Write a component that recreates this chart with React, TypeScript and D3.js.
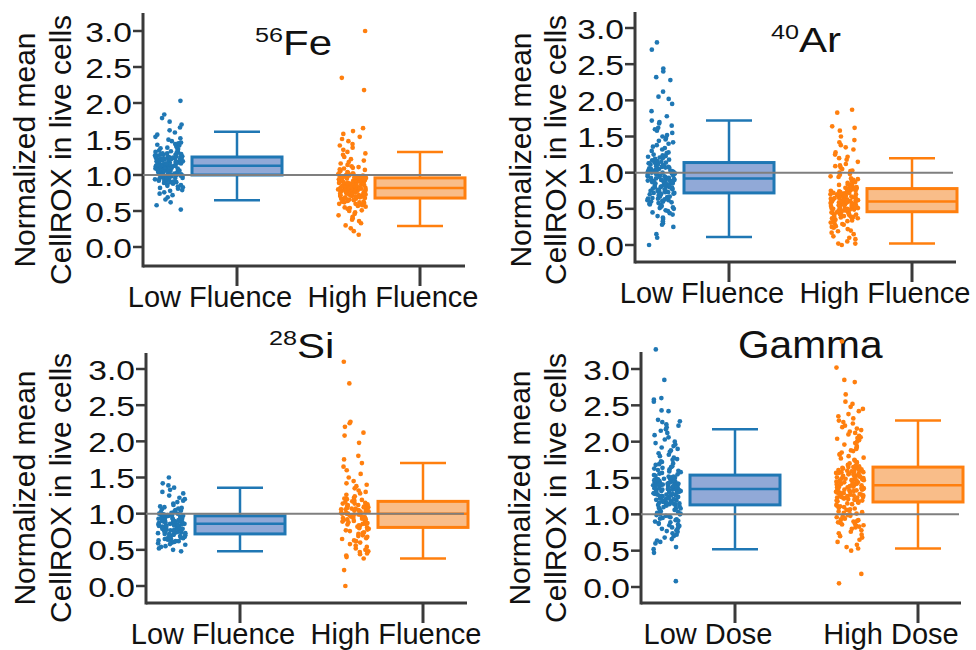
import React, { useEffect, useRef } from "react";
import * as d3 from "d3";

// values (normalized mean CellROX per cell)
const feLow = [0.52,0.58,0.62,0.66,0.69,0.72,0.74,0.76,0.78,0.79,0.81,0.82,0.83,0.84,0.85,0.86,0.87,0.88,0.89,0.9,0.9,0.91,0.92,0.92,0.93,0.94,0.94,0.95,0.95,0.96,0.96,0.97,0.97,0.98,0.98,0.99,0.99,1.0,1.0,1.0,1.01,1.01,1.02,1.02,1.03,1.03,1.04,1.04,1.04,1.05,1.05,1.05,1.06,1.06,1.06,1.07,1.07,1.07,1.08,1.08,1.08,1.09,1.09,1.09,1.1,1.1,1.1,1.1,1.11,1.11,1.11,1.12,1.12,1.12,1.12,1.13,1.13,1.13,1.13,1.13,1.14,1.14,1.14,1.15,1.15,1.15,1.16,1.16,1.16,1.17,1.17,1.17,1.18,1.18,1.18,1.19,1.19,1.19,1.2,1.2,1.2,1.21,1.21,1.21,1.22,1.22,1.22,1.23,1.23,1.23,1.24,1.24,1.24,1.25,1.25,1.25,1.25,1.16,1.19,1.22,1.26,1.26,1.27,1.27,1.28,1.28,1.29,1.29,1.3,1.3,1.31,1.31,1.32,1.33,1.33,1.34,1.35,1.36,1.37,1.38,1.39,1.4,1.41,1.42,1.43,1.44,1.45,1.47,1.49,1.51,1.53,1.56,1.59,1.62,1.66,1.7,1.74,1.79,1.84,2.03];
const feHigh = [0.17,0.22,0.26,0.3,0.33,0.36,0.38,0.4,0.42,0.44,0.46,0.48,0.5,0.51,0.53,0.54,0.55,0.56,0.57,0.58,0.59,0.6,0.6,0.61,0.62,0.62,0.63,0.63,0.64,0.64,0.65,0.65,0.66,0.66,0.67,0.67,0.68,0.68,0.69,0.69,0.7,0.7,0.71,0.71,0.71,0.72,0.72,0.72,0.73,0.73,0.73,0.74,0.74,0.74,0.75,0.75,0.75,0.76,0.76,0.76,0.77,0.77,0.77,0.78,0.78,0.78,0.79,0.79,0.79,0.8,0.8,0.8,0.8,0.81,0.81,0.81,0.81,0.82,0.82,0.82,0.82,0.83,0.83,0.83,0.83,0.84,0.84,0.84,0.85,0.85,0.85,0.86,0.86,0.86,0.87,0.87,0.87,0.88,0.88,0.88,0.89,0.89,0.89,0.9,0.9,0.9,0.91,0.91,0.91,0.92,0.92,0.92,0.93,0.93,0.93,0.94,0.94,0.94,0.95,0.95,0.95,0.96,0.96,0.96,0.97,0.97,0.97,0.97,0.98,0.98,0.99,0.99,1.0,1.0,1.01,1.01,1.02,1.02,1.03,1.04,1.05,1.06,1.07,1.08,1.09,1.1,1.12,1.14,1.16,1.18,1.2,1.22,1.25,1.28,1.3,1.32,1.35,1.38,1.41,1.43,1.47,1.5,1.53,1.57,1.61,1.65,2.18,2.35,3.0,1.11];
const arLow = [0.0,0.1,0.15,0.25,0.28,0.3,0.33,0.36,0.38,0.4,0.42,0.44,0.45,0.47,0.48,0.5,0.51,0.52,0.53,0.54,0.55,0.56,0.57,0.58,0.59,0.6,0.6,0.61,0.62,0.62,0.63,0.64,0.64,0.65,0.66,0.66,0.67,0.67,0.68,0.68,0.69,0.7,0.7,0.71,0.71,0.72,0.72,0.73,0.73,0.74,0.74,0.75,0.75,0.76,0.76,0.77,0.77,0.78,0.78,0.79,0.79,0.8,0.8,0.8,0.81,0.81,0.82,0.82,0.83,0.83,0.84,0.84,0.85,0.85,0.86,0.86,0.87,0.87,0.88,0.88,0.88,0.89,0.89,0.9,0.9,0.9,0.91,0.91,0.92,0.92,0.93,0.93,0.94,0.94,0.95,0.95,0.96,0.96,0.97,0.97,0.98,0.98,0.99,0.99,1.0,1.0,1.01,1.01,1.02,1.02,1.03,1.03,1.04,1.04,1.05,1.05,1.06,1.06,1.07,1.07,1.08,1.08,1.09,1.09,1.1,1.1,1.11,1.11,1.12,1.12,1.13,1.13,1.14,1.14,1.0,1.15,1.16,1.17,1.18,1.19,1.2,1.21,1.22,1.23,1.24,1.25,1.27,1.28,1.3,1.32,1.34,1.36,1.38,1.4,1.42,1.44,1.46,1.48,1.5,1.52,1.55,1.58,1.6,1.62,1.65,1.68,1.7,1.72,1.78,1.85,1.95,2.02,2.05,2.12,2.28,2.32,2.4,2.44,2.7,2.8];
const arHigh = [0.0,0.02,0.02,0.05,0.08,0.1,0.12,0.15,0.17,0.19,0.2,0.22,0.24,0.25,0.26,0.28,0.29,0.3,0.31,0.32,0.33,0.34,0.35,0.35,0.36,0.37,0.37,0.38,0.38,0.39,0.39,0.4,0.4,0.41,0.41,0.42,0.42,0.43,0.43,0.44,0.44,0.45,0.45,0.45,0.46,0.46,0.47,0.47,0.47,0.48,0.48,0.48,0.49,0.49,0.49,0.5,0.5,0.5,0.51,0.51,0.51,0.52,0.52,0.52,0.53,0.53,0.53,0.54,0.54,0.54,0.55,0.55,0.55,0.56,0.56,0.56,0.57,0.57,0.57,0.58,0.58,0.58,0.59,0.59,0.59,0.6,0.6,0.6,0.6,0.53,0.61,0.61,0.61,0.62,0.62,0.62,0.63,0.63,0.64,0.64,0.65,0.65,0.66,0.66,0.67,0.67,0.68,0.68,0.69,0.69,0.7,0.7,0.7,0.71,0.71,0.72,0.72,0.73,0.73,0.74,0.74,0.75,0.75,0.75,0.76,0.76,0.77,0.77,0.77,0.78,0.78,0.78,0.66,0.69,0.72,0.79,0.79,0.8,0.8,0.81,0.82,0.83,0.84,0.85,0.86,0.87,0.88,0.89,0.9,0.91,0.92,0.94,0.95,0.97,0.98,1.0,1.02,1.03,1.05,1.07,1.09,1.1,1.12,1.15,1.18,1.2,1.22,1.25,1.28,1.32,1.35,1.38,1.42,1.45,1.5,1.58,1.62,1.64,1.83,1.87];
const siLow = [0.48,0.5,0.52,0.54,0.55,0.57,0.58,0.59,0.6,0.61,0.62,0.62,0.63,0.64,0.64,0.65,0.65,0.66,0.66,0.67,0.67,0.68,0.68,0.69,0.69,0.7,0.7,0.71,0.71,0.72,0.72,0.73,0.73,0.74,0.74,0.75,0.75,0.76,0.76,0.77,0.77,0.78,0.78,0.79,0.79,0.8,0.8,0.81,0.81,0.82,0.82,0.83,0.83,0.84,0.84,0.85,0.85,0.85,0.86,0.86,0.86,0.87,0.87,0.87,0.88,0.88,0.88,0.89,0.89,0.89,0.9,0.9,0.9,0.91,0.91,0.92,0.92,0.92,0.93,0.93,0.93,0.94,0.94,0.95,0.95,0.95,0.96,0.96,0.97,0.97,0.98,0.98,0.99,0.99,1.0,1.0,1.01,1.02,1.03,1.04,1.05,1.06,1.07,1.08,1.09,1.1,1.12,1.14,1.16,1.18,1.2,1.22,1.25,1.28,1.3,1.33,1.36,1.39,1.42,1.5];
const siHigh = [0.0,0.22,0.38,0.4,0.42,0.44,0.45,0.47,0.48,0.5,0.52,0.54,0.56,0.58,0.6,0.62,0.63,0.65,0.66,0.68,0.69,0.7,0.72,0.73,0.74,0.76,0.77,0.78,0.79,0.8,0.81,0.82,0.83,0.84,0.85,0.86,0.86,0.87,0.88,0.89,0.9,0.9,0.91,0.92,0.92,0.93,0.94,0.94,0.95,0.95,0.96,0.96,0.97,0.97,0.98,0.98,0.99,0.99,1.0,1.0,1.0,1.01,1.01,1.02,1.02,1.03,1.03,1.04,1.04,1.05,1.05,1.06,1.06,1.07,1.07,1.08,1.08,1.09,1.09,1.1,1.1,1.11,1.12,1.12,1.13,1.14,1.14,1.15,1.16,1.17,1.18,1.19,1.2,1.21,1.22,1.24,1.26,1.28,1.3,1.32,1.35,1.38,1.4,1.42,1.45,1.5,1.55,1.6,1.65,1.7,1.75,1.8,1.98,2.08,2.12,2.2,2.25,2.27,2.8,3.1];
const gammaLow = [0.08,0.47,0.52,0.55,0.6,0.62,0.64,0.66,0.68,0.7,0.72,0.74,0.76,0.77,0.78,0.8,0.81,0.82,0.84,0.85,0.86,0.87,0.88,0.89,0.9,0.91,0.92,0.93,0.94,0.95,0.96,0.97,0.98,0.99,1.0,1.0,1.01,1.02,1.03,1.04,1.05,1.06,1.07,1.08,1.08,1.09,1.1,1.11,1.12,1.13,1.13,1.14,1.14,1.15,1.15,1.16,1.16,1.17,1.17,1.18,1.18,1.19,1.19,1.2,1.2,1.21,1.21,1.22,1.22,1.23,1.23,1.24,1.24,1.25,1.25,1.26,1.26,1.27,1.27,1.28,1.28,1.29,1.29,1.3,1.3,1.3,1.31,1.31,1.32,1.32,1.32,1.33,1.33,1.33,1.34,1.34,1.34,1.35,1.35,1.35,1.36,1.36,1.36,1.37,1.37,1.37,1.38,1.38,1.38,1.39,1.39,1.39,1.4,1.4,1.4,1.41,1.41,1.41,1.42,1.42,1.42,1.43,1.43,1.43,1.44,1.44,1.44,1.45,1.45,1.45,1.46,1.46,1.46,1.47,1.47,1.47,1.48,1.48,1.48,1.49,1.49,1.5,1.5,1.5,1.51,1.51,1.52,1.52,1.53,1.54,1.55,1.56,1.57,1.58,1.59,1.6,1.61,1.62,1.63,1.64,1.65,1.66,1.68,1.69,1.7,1.72,1.73,1.75,1.76,1.78,1.8,1.82,1.84,1.86,1.88,1.9,1.92,1.94,1.96,1.98,2.0,2.03,2.06,2.09,2.12,2.15,2.17,2.2,2.22,2.24,2.27,2.28,2.3,2.42,2.43,2.55,2.58,2.6,2.85,3.27];
const gammaHigh = [0.05,0.18,0.5,0.53,0.55,0.58,0.62,0.65,0.68,0.7,0.72,0.74,0.76,0.78,0.8,0.82,0.83,0.84,0.85,0.86,0.87,0.88,0.89,0.9,0.91,0.92,0.93,0.94,0.95,0.96,0.97,0.98,0.99,1.0,1.01,1.02,1.03,1.04,1.05,1.06,1.07,1.08,1.09,1.1,1.11,1.12,1.13,1.14,1.15,1.16,1.17,1.17,1.18,1.18,1.19,1.19,1.2,1.2,1.21,1.21,1.22,1.22,1.23,1.23,1.24,1.24,1.25,1.25,1.26,1.26,1.27,1.27,1.28,1.28,1.29,1.29,1.3,1.3,1.31,1.31,1.32,1.32,1.33,1.33,1.34,1.34,1.35,1.35,1.36,1.36,1.36,1.37,1.37,1.37,1.38,1.38,1.39,1.39,1.4,1.4,1.41,1.41,1.42,1.42,1.43,1.43,1.44,1.44,1.45,1.45,1.46,1.46,1.47,1.47,1.48,1.48,1.49,1.49,1.5,1.5,1.51,1.51,1.52,1.52,1.53,1.53,1.54,1.54,1.55,1.55,1.56,1.56,1.57,1.57,1.58,1.58,1.59,1.59,1.6,1.6,1.61,1.61,1.62,1.62,1.63,1.63,1.64,1.64,1.65,1.65,1.66,1.67,1.68,1.7,1.71,1.72,1.74,1.75,1.77,1.78,1.8,1.82,1.83,1.85,1.87,1.88,1.9,1.92,1.94,1.96,1.98,2.0,2.02,2.04,2.06,2.08,2.1,2.12,2.14,2.16,2.18,2.2,2.22,2.25,2.27,2.29,2.32,2.35,2.38,2.42,2.45,2.48,2.52,2.55,2.65,2.82,2.85,3.02,3.38,2.05];

// box stats: [whisker low, q1, median, q3, whisker high]
const feLowBox = [0.65, 1.0, 1.13, 1.25, 1.6];
const feHighBox = [0.29, 0.68, 0.82, 0.96, 1.32];
const arLowBox = [0.11, 0.72, 0.92, 1.14, 1.72];
const arHighBox = [0.02, 0.46, 0.6, 0.78, 1.2];
const siLowBox = [0.48, 0.72, 0.86, 0.97, 1.36];
const siHighBox = [0.38, 0.81, 1.0, 1.17, 1.7];
const gammaLowBox = [0.52, 1.13, 1.35, 1.54, 2.17];
const gammaHighBox = [0.53, 1.17, 1.4, 1.65, 2.29];

const fluenceLabels = ["Low Fluence", "High Fluence"];
const doseLabels = ["Low Dose", "High Dose"];
const yTicks = [0, 0.5, 1, 1.5, 2, 2.5, 3];

const colors = ["#1f77b4", "#ff7f0e"];
const boxFills = ["#91a9d7", "#f9bd89"];
const axisColor = "#3a3a3a";
const font = "'Liberation Sans', Arial, Helvetica, sans-serif";

const panels = [
  { sup: "56", name: "Fe", tx: 255, ty: 55, cats: fluenceLabels, groups: [feLow, feHigh], boxes: [feLowBox, feHighBox],
    left: 143, right: 465, y0: 247, y3: 31, top: 13, bottom: 266, lab1: 35, lab2: 71, labY: 150 },
  { sup: "40", name: "Ar", tx: 771, ty: 52, cats: fluenceLabels, groups: [arLow, arHigh], boxes: [arLowBox, arHighBox],
    left: 635, right: 956, y0: 245, y3: 28, top: 12, bottom: 262, lab1: 531, lab2: 566, labY: 150 },
  { sup: "28", name: "Si", tx: 269, ty: 358, cats: fluenceLabels, groups: [siLow, siHigh], boxes: [siLowBox, siHighBox],
    left: 146, right: 467, y0: 586, y3: 369, top: 353, bottom: 603, lab1: 35, lab2: 71, labY: 488 },
  { sup: "", name: "Gamma", tx: 738, ty: 358, cats: doseLabels, groups: [gammaLow, gammaHigh], boxes: [gammaLowBox, gammaHighBox],
    left: 641, right: 961, y0: 587, y3: 369, top: 352, bottom: 603, lab1: 530, lab2: 566, labY: 488 },
];

// deterministic horizontal jitter for the strips (position only, in [-0.5, 0.5])
const jitter = (i: number, k: number) => {
  const s = Math.sin((i + 1) * 12.9898 + k * 78.233) * 43758.5453;
  return s - Math.floor(s) - 0.5;
};

const App = () => {
  const ref = useRef<SVGSVGElement>(null);

  useEffect(() => {
    const svg = d3.select(ref.current);
    svg.selectAll("*").remove();

    panels.forEach((p, pi) => {
      const g = svg.append("g");
      const y = d3.scaleLinear().domain([0, 3]).range([p.y0, p.y3]);
      const x = d3.scalePoint<string>().domain(p.cats).range([p.left + 94, p.left + 277]);

      // title
      const title = g.append("text").attr("font-family", font).attr("fill", "#111");
      if (p.sup) {
        title
          .attr("transform", `translate(${p.tx},${p.ty}) scale(1.2,1)`)
          .call((t) => t.append("tspan").attr("font-size", 21).attr("dy", -13).text(p.sup))
          .call((t) => t.append("tspan").attr("font-size", 35).attr("dy", 13).text(p.name));
      } else {
        title.attr("transform", `translate(${p.tx},${p.ty}) scale(1.07,1)`).attr("font-size", 38).text(p.name);
      }

      // y label
      const yl = g.append("g").attr("font-family", font).attr("font-size", 30).attr("fill", "#111").attr("text-anchor", "middle");
      yl.append("text").attr("transform", `translate(${p.lab1},${p.labY}) rotate(-90)`).text("Normalized mean");
      yl.append("text").attr("transform", `translate(${p.lab2},${p.labY}) rotate(-90)`).text("CellROX in live cells");

      // axes
      g.append("line").attr("x1", p.left).attr("x2", p.left).attr("y1", p.top).attr("y2", p.bottom + 1.5)
        .attr("stroke", axisColor).attr("stroke-width", 3);
      g.append("line").attr("x1", p.left).attr("x2", p.right).attr("y1", p.bottom).attr("y2", p.bottom)
        .attr("stroke", axisColor).attr("stroke-width", 3);
      yTicks.forEach((v) => {
        g.append("line").attr("x1", p.left - 10).attr("x2", p.left).attr("y1", y(v)).attr("y2", y(v))
          .attr("stroke", axisColor).attr("stroke-width", 2.5);
        g.append("text").attr("transform", `translate(${p.left - 11},${y(v) + 1}) scale(1.2,1)`)
          .attr("text-anchor", "end").attr("dominant-baseline", "central")
          .attr("font-family", font).attr("font-size", 28).attr("fill", "#111")
          .text(d3.format(".1f")(v));
      });
      p.cats.forEach((c) => {
        const cx = x(c) as number;
        g.append("line").attr("x1", cx).attr("x2", cx).attr("y1", p.bottom).attr("y2", p.bottom + 20)
          .attr("stroke", axisColor).attr("stroke-width", 3);
        g.append("text").attr("x", cx - 27).attr("y", p.bottom + 41).attr("text-anchor", "middle")
          .attr("font-family", font).attr("font-size", 29).attr("fill", "#111").text(c);
      });

      // boxes
      p.cats.forEach((c, k) => {
        const cx = x(c) as number;
        const [wl, q1, md, q3, wh] = p.boxes[k];
        const bg = g.append("g").attr("stroke", colors[k]).attr("stroke-width", 2.5);
        bg.append("line").attr("x1", cx).attr("x2", cx).attr("y1", y(q3)).attr("y2", y(wh));
        bg.append("line").attr("x1", cx).attr("x2", cx).attr("y1", y(q1)).attr("y2", y(wl));
        bg.append("line").attr("x1", cx - 23).attr("x2", cx + 23).attr("y1", y(wh)).attr("y2", y(wh));
        bg.append("line").attr("x1", cx - 23).attr("x2", cx + 23).attr("y1", y(wl)).attr("y2", y(wl));
        bg.append("rect").attr("x", cx - 45).attr("width", 90).attr("y", y(q3)).attr("height", y(q1) - y(q3))
          .attr("fill", boxFills[k]).attr("stroke-width", 3);
        bg.append("line").attr("x1", cx - 45).attr("x2", cx + 45).attr("y1", y(md)).attr("y2", y(md));
      });

      // strips
      p.cats.forEach((c, k) => {
        const sx = (x(c) as number) - 68;
        g.append("g").selectAll("circle").data(p.groups[k]).enter().append("circle")
          .attr("cx", (d, i) => sx + jitter(i, pi * 2 + k) * 28)
          .attr("cy", (d) => y(d))
          .attr("r", 2.35)
          .attr("fill", colors[k]);
      });

      // reference line at 1.0
      g.append("line").attr("x1", p.left).attr("x2", p.left + 318).attr("y1", y(1)).attr("y2", y(1))
        .attr("stroke", "#7f7f7f").attr("stroke-width", 2);
    });
  }, []);

  return (
    <svg ref={ref} width={976} height={650} style={{ position: "absolute", left: 0, top: 0, background: "#fff" }} />
  );
};

export default App;
